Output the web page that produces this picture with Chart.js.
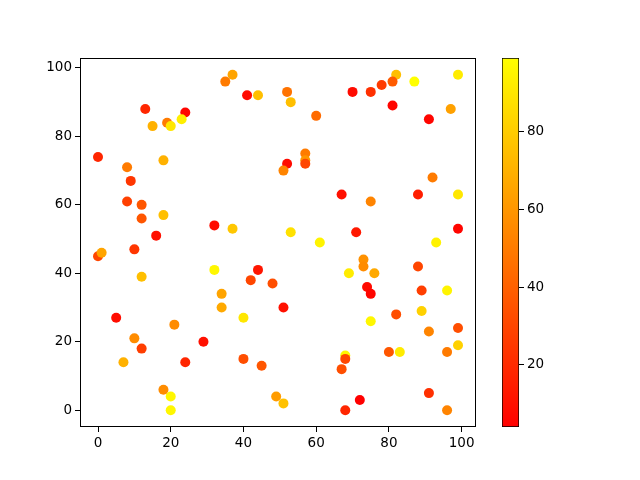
<!DOCTYPE html>
<html>
<head>
<meta charset="utf-8">
<script src="https://cdn.jsdelivr.net/npm/chart.js@4"></script>
<style>
  html, body { margin: 0; padding: 0; background: #fff; }
  #wrap { position: relative; width: 640px; height: 480px; }
  #main { position: absolute; left: 0; top: 0; }
  #cbar { position: absolute; left: 480px; top: 0; }
</style>
</head>
<body>
<div id="wrap">
  <canvas id="main" width="640" height="480"></canvas>
  <canvas id="cbar" width="160" height="480"></canvas>
</div>
<script>
// Scatter data
const xValues = [
  37, 35, 41, 44, 13, 24, 23, 19, 20, 15, 0, 18, 8, 9, 8, 12, 12, 18, 32, 37, 16,
  82, 87, 99, 81, 78, 75, 70, 52, 53, 81, 97, 91, 60, 57, 57, 57, 52, 51, 92, 67, 75, 88, 99, 53, 61, 71, 99, 93,
  0, 1, 10, 12, 32, 44, 42, 48, 34, 34, 40, 5, 21, 10, 12, 29, 7, 24, 40, 45, 18, 20, 20, 49,
  73, 73, 69, 76, 88, 74, 75, 89, 96, 51, 82, 89, 75, 91, 99, 99, 80, 83, 96, 68, 68, 67, 51, 72, 68, 91, 96
];
const yValues = [
  98, 96, 92, 92, 88, 87, 85, 84, 83, 83, 74, 73, 71, 67, 61, 60, 56, 57, 54, 53, 51,
  98, 96, 98, 96, 95, 93, 93, 93, 90, 89, 88, 85, 86, 75, 73, 72, 72, 70, 68, 63, 61, 63, 63, 52, 49, 52, 53, 49,
  45, 46, 47, 39, 41, 41, 38, 37, 34, 30, 27, 27, 25, 21, 18, 20, 14, 14, 15, 13, 6, 4, 0, 4,
  44, 42, 40, 40, 42, 36, 34, 35, 35, 30, 28, 29, 26, 23, 24, 19, 17, 17, 17, 16, 15, 12, 2, 3, 0, 5, 0
];
const colorValues = [
  65, 50, 8, 75, 18, 6, 93, 50, 90, 70, 18, 70, 50, 24, 28, 36, 36, 75, 8, 78, 10,
  75, 99, 92, 38, 26, 22, 8, 47, 75, 6, 64, 6, 44, 50, 60, 30, 8, 53, 50, 10, 53, 15, 90, 88, 95, 13, 6, 94,
  30, 65, 24, 75, 96, 12, 30, 33, 65, 67, 90, 9, 56, 56, 27, 10, 70, 18, 33, 36, 56, 96, 96, 62,
  58, 56, 92, 67, 30, 8, 6, 27, 95, 10, 33, 82, 96, 53, 33, 82, 36, 92, 50, 96, 30, 33, 76, 4, 18, 22, 53
];

const xTicks = [0, 20, 40, 60, 80, 100];
const yTicks = [0, 20, 40, 60, 80, 100];
const colorbarTicks = [20, 40, 60, 80];

const FONT = { family: "'DejaVu Sans', sans-serif", size: 13.5 };

const cMin = Math.min(...colorValues);
const cMax = Math.max(...colorValues);

// matplotlib "autumn": red -> yellow
function autumn(v) {
  const t = Math.max(0, Math.min(1, (v - cMin) / (cMax - cMin)));
  return `rgb(255, ${Math.round(t * 255)}, 0)`;
}

// 5% auto margins like matplotlib
function paddedRange(vals) {
  const lo = Math.min(...vals), hi = Math.max(...vals);
  const m = (hi - lo) * 0.05;
  return [lo - m, hi + m];
}
const [xMin, xMax] = paddedRange(xValues);
const [yMin, yMax] = paddedRange(yValues);

const points = xValues.map((x, i) => ({ x, y: yValues[i] }));

const frame = {
  id: "frame",
  afterDatasetsDraw(chart) {
    const a = chart.chartArea;
    const ctx = chart.ctx;
    ctx.save();
    ctx.strokeStyle = "#000";
    ctx.lineWidth = 1;
    ctx.strokeRect(Math.round(a.left) + 0.5, Math.round(a.top) + 0.5,
      Math.round(a.right - a.left) - 1, Math.round(a.bottom - a.top) - 1);
    ctx.restore();
  },
};

function axisStyle(ticks) {
  return {
    type: "linear",
    grid: { drawOnChartArea: false, drawTicks: true, tickLength: 5, color: "#000" },
    border: { display: false },
    ticks: { color: "#000", font: FONT, padding: 3, maxRotation: 0 },
    afterBuildTicks: (scale) => { scale.ticks = ticks.map((v) => ({ value: v })); },
  };
}

new Chart(document.getElementById("main"), {
  type: "scatter",
  data: {
    datasets: [{
      data: points,
      pointRadius: 5,
      pointHoverRadius: 5,
      borderWidth: 0,
      pointBackgroundColor: colorValues.map(autumn),
    }],
  },
  options: {
    responsive: false,
    animation: false,
    layout: { padding: { left: 0, right: 164, top: 58, bottom: 0 } },
    plugins: { legend: { display: false }, tooltip: { enabled: false } },
    scales: {
      x: { ...axisStyle(xTicks), min: xMin, max: xMax,
        afterFit: (s) => { s.height = 53; } },
      y: { ...axisStyle(yTicks), min: yMin, max: yMax,
        afterFit: (s) => { s.width = 80; } },
    },
  },
  plugins: [frame],
});

// Colorbar: a single floating bar from cMin to cMax filled with the colormap
new Chart(document.getElementById("cbar"), {
  type: "bar",
  data: {
    labels: [""],
    datasets: [{
      data: [[cMin, cMax]],
      barPercentage: 1,
      categoryPercentage: 1,
      borderWidth: 1,
      borderColor: "#000",
      borderSkipped: false,
      backgroundColor: (ctx) => {
        const area = ctx.chart.chartArea;
        if (!area) return "#f80";
        const g = ctx.chart.ctx.createLinearGradient(0, area.bottom, 0, area.top);
        g.addColorStop(0, autumn(cMin));
        g.addColorStop(1, autumn(cMax));
        return g;
      },
    }],
  },
  options: {
    responsive: false,
    animation: false,
    layout: { padding: { left: 22, right: 0, top: 58, bottom: 53 } },
    plugins: { legend: { display: false }, tooltip: { enabled: false } },
    scales: {
      x: { display: false },
      y: {
        ...axisStyle(colorbarTicks),
        position: "right",
        min: cMin,
        max: cMax,
        ticks: { color: "#000", font: FONT, padding: 3 },
        afterFit: (s) => { s.width = 121; },
      },
    },
  },
});
</script>
</body>
</html>
